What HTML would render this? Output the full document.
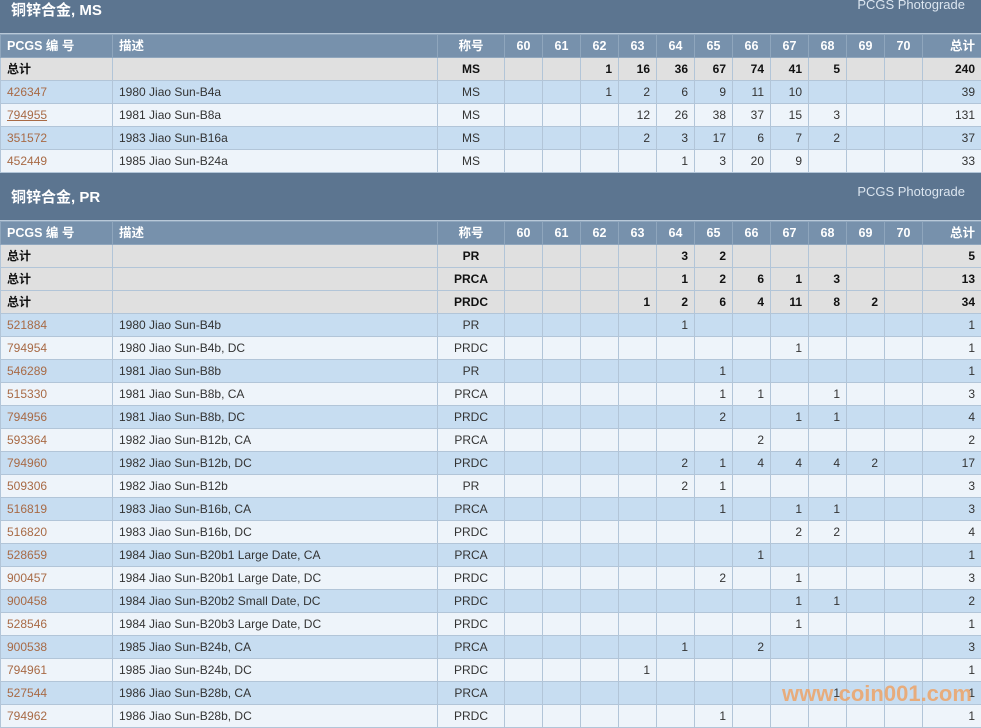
<!DOCTYPE html>
<html><head><meta charset="utf-8"><style>
body{margin:0;width:981px;height:723px;overflow:hidden;background:#fff;font-family:"Liberation Sans","Noto Sans CJK SC",sans-serif;font-size:12px;color:#333}
.wrap{position:absolute;left:0;top:-14px;width:981px}
.bar{height:48px;background:#5c7590;position:relative;border-bottom:1px solid #b8c8d8;box-sizing:border-box}
.bar .t{position:absolute;left:11px;top:13px;color:#fff;font-weight:bold;font-size:15px}
.bar .p{position:absolute;right:16px;top:11px;color:#dbe5ef;font-size:13px}
table{border-collapse:collapse;table-layout:fixed;width:981px}
td{height:23px;line-height:14px;vertical-align:middle;border:1px solid #b2c5d8;padding:0 6px;white-space:nowrap;overflow:hidden;box-sizing:border-box;text-align:right}
td:nth-child(1),td:nth-child(2){text-align:left}
td:nth-child(3){text-align:center}
tr.h td{background:#7791ac;color:#fff;font-weight:bold;font-size:12.5px;text-align:center;border-color:#8fa6bd}
tr.h td:nth-child(1),tr.h td:nth-child(2){text-align:left}
tr.h td:last-child{text-align:right}
tr.s td{background:#e0e0e0;font-weight:bold;color:#111}
tr.a td{background:#c7ddf1}
tr.b td{background:#eef4fa}
td a{color:#a86a45;text-decoration:none}
.u{text-decoration:underline!important}
.wm{position:absolute;left:782px;top:681px;color:#f0a060;font-weight:bold;font-size:22px;opacity:.8}
</style></head><body>
<div class="wrap">
<div class="bar"><span class="t">铜锌合金, MS</span><span class="p">PCGS Photograde</span></div>
<table>
<colgroup><col style="width:112px"><col style="width:325px"><col style="width:67px"><col span="11" style="width:38px"><col style="width:59px"></colgroup>
<tr class="h"><td>PCGS 编 号</td><td>描述</td><td>称号</td><td>60</td><td>61</td><td>62</td><td>63</td><td>64</td><td>65</td><td>66</td><td>67</td><td>68</td><td>69</td><td>70</td><td>总计</td></tr>
<tr class="s"><td>总计</td><td></td><td>MS</td><td></td><td></td><td>1</td><td>16</td><td>36</td><td>67</td><td>74</td><td>41</td><td>5</td><td></td><td></td><td>240</td></tr>
<tr class="a"><td><a>426347</a></td><td>1980 Jiao Sun-B4a</td><td>MS</td><td></td><td></td><td>1</td><td>2</td><td>6</td><td>9</td><td>11</td><td>10</td><td></td><td></td><td></td><td>39</td></tr>
<tr class="b"><td><a class="u">794955</a></td><td>1981 Jiao Sun-B8a</td><td>MS</td><td></td><td></td><td></td><td>12</td><td>26</td><td>38</td><td>37</td><td>15</td><td>3</td><td></td><td></td><td>131</td></tr>
<tr class="a"><td><a>351572</a></td><td>1983 Jiao Sun-B16a</td><td>MS</td><td></td><td></td><td></td><td>2</td><td>3</td><td>17</td><td>6</td><td>7</td><td>2</td><td></td><td></td><td>37</td></tr>
<tr class="b"><td><a>452449</a></td><td>1985 Jiao Sun-B24a</td><td>MS</td><td></td><td></td><td></td><td></td><td>1</td><td>3</td><td>20</td><td>9</td><td></td><td></td><td></td><td>33</td></tr>
</table>
<div class="bar"><span class="t">铜锌合金, PR</span><span class="p">PCGS Photograde</span></div>
<table>
<colgroup><col style="width:112px"><col style="width:325px"><col style="width:67px"><col span="11" style="width:38px"><col style="width:59px"></colgroup>
<tr class="h"><td>PCGS 编 号</td><td>描述</td><td>称号</td><td>60</td><td>61</td><td>62</td><td>63</td><td>64</td><td>65</td><td>66</td><td>67</td><td>68</td><td>69</td><td>70</td><td>总计</td></tr>
<tr class="s"><td>总计</td><td></td><td>PR</td><td></td><td></td><td></td><td></td><td>3</td><td>2</td><td></td><td></td><td></td><td></td><td></td><td>5</td></tr>
<tr class="s"><td>总计</td><td></td><td>PRCA</td><td></td><td></td><td></td><td></td><td>1</td><td>2</td><td>6</td><td>1</td><td>3</td><td></td><td></td><td>13</td></tr>
<tr class="s"><td>总计</td><td></td><td>PRDC</td><td></td><td></td><td></td><td>1</td><td>2</td><td>6</td><td>4</td><td>11</td><td>8</td><td>2</td><td></td><td>34</td></tr>
<tr class="a"><td><a>521884</a></td><td>1980 Jiao Sun-B4b</td><td>PR</td><td></td><td></td><td></td><td></td><td>1</td><td></td><td></td><td></td><td></td><td></td><td></td><td>1</td></tr>
<tr class="b"><td><a>794954</a></td><td>1980 Jiao Sun-B4b, DC</td><td>PRDC</td><td></td><td></td><td></td><td></td><td></td><td></td><td></td><td>1</td><td></td><td></td><td></td><td>1</td></tr>
<tr class="a"><td><a>546289</a></td><td>1981 Jiao Sun-B8b</td><td>PR</td><td></td><td></td><td></td><td></td><td></td><td>1</td><td></td><td></td><td></td><td></td><td></td><td>1</td></tr>
<tr class="b"><td><a>515330</a></td><td>1981 Jiao Sun-B8b, CA</td><td>PRCA</td><td></td><td></td><td></td><td></td><td></td><td>1</td><td>1</td><td></td><td>1</td><td></td><td></td><td>3</td></tr>
<tr class="a"><td><a>794956</a></td><td>1981 Jiao Sun-B8b, DC</td><td>PRDC</td><td></td><td></td><td></td><td></td><td></td><td>2</td><td></td><td>1</td><td>1</td><td></td><td></td><td>4</td></tr>
<tr class="b"><td><a>593364</a></td><td>1982 Jiao Sun-B12b, CA</td><td>PRCA</td><td></td><td></td><td></td><td></td><td></td><td></td><td>2</td><td></td><td></td><td></td><td></td><td>2</td></tr>
<tr class="a"><td><a>794960</a></td><td>1982 Jiao Sun-B12b, DC</td><td>PRDC</td><td></td><td></td><td></td><td></td><td>2</td><td>1</td><td>4</td><td>4</td><td>4</td><td>2</td><td></td><td>17</td></tr>
<tr class="b"><td><a>509306</a></td><td>1982 Jiao Sun-B12b</td><td>PR</td><td></td><td></td><td></td><td></td><td>2</td><td>1</td><td></td><td></td><td></td><td></td><td></td><td>3</td></tr>
<tr class="a"><td><a>516819</a></td><td>1983 Jiao Sun-B16b, CA</td><td>PRCA</td><td></td><td></td><td></td><td></td><td></td><td>1</td><td></td><td>1</td><td>1</td><td></td><td></td><td>3</td></tr>
<tr class="b"><td><a>516820</a></td><td>1983 Jiao Sun-B16b, DC</td><td>PRDC</td><td></td><td></td><td></td><td></td><td></td><td></td><td></td><td>2</td><td>2</td><td></td><td></td><td>4</td></tr>
<tr class="a"><td><a>528659</a></td><td>1984 Jiao Sun-B20b1 Large Date, CA</td><td>PRCA</td><td></td><td></td><td></td><td></td><td></td><td></td><td>1</td><td></td><td></td><td></td><td></td><td>1</td></tr>
<tr class="b"><td><a>900457</a></td><td>1984 Jiao Sun-B20b1 Large Date, DC</td><td>PRDC</td><td></td><td></td><td></td><td></td><td></td><td>2</td><td></td><td>1</td><td></td><td></td><td></td><td>3</td></tr>
<tr class="a"><td><a>900458</a></td><td>1984 Jiao Sun-B20b2 Small Date, DC</td><td>PRDC</td><td></td><td></td><td></td><td></td><td></td><td></td><td></td><td>1</td><td>1</td><td></td><td></td><td>2</td></tr>
<tr class="b"><td><a>528546</a></td><td>1984 Jiao Sun-B20b3 Large Date, DC</td><td>PRDC</td><td></td><td></td><td></td><td></td><td></td><td></td><td></td><td>1</td><td></td><td></td><td></td><td>1</td></tr>
<tr class="a"><td><a>900538</a></td><td>1985 Jiao Sun-B24b, CA</td><td>PRCA</td><td></td><td></td><td></td><td></td><td>1</td><td></td><td>2</td><td></td><td></td><td></td><td></td><td>3</td></tr>
<tr class="b"><td><a>794961</a></td><td>1985 Jiao Sun-B24b, DC</td><td>PRDC</td><td></td><td></td><td></td><td>1</td><td></td><td></td><td></td><td></td><td></td><td></td><td></td><td>1</td></tr>
<tr class="a"><td><a>527544</a></td><td>1986 Jiao Sun-B28b, CA</td><td>PRCA</td><td></td><td></td><td></td><td></td><td></td><td></td><td></td><td></td><td>1</td><td></td><td></td><td>1</td></tr>
<tr class="b"><td><a>794962</a></td><td>1986 Jiao Sun-B28b, DC</td><td>PRDC</td><td></td><td></td><td></td><td></td><td></td><td>1</td><td></td><td></td><td></td><td></td><td></td><td>1</td></tr>
</table>
</div>
<div class="wm">www.coin001.com</div>
</body></html>
